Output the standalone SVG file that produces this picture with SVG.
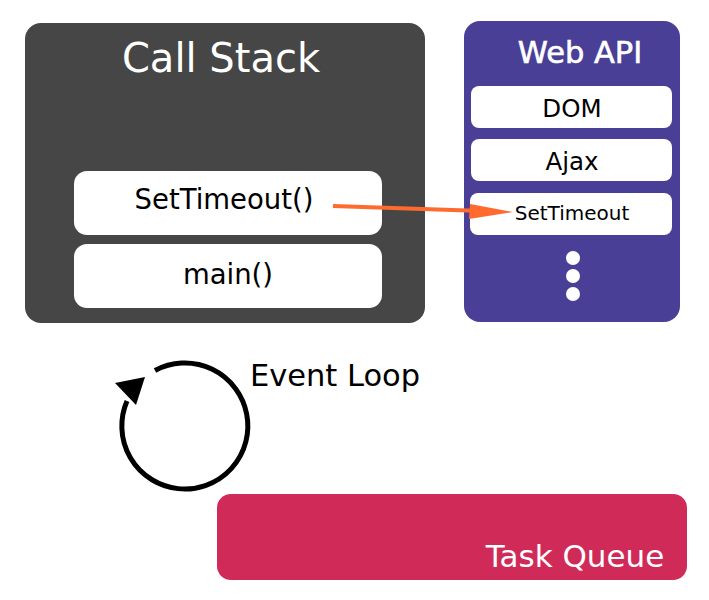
<svg xmlns="http://www.w3.org/2000/svg" width="709" height="600" viewBox="0 0 709 600">
<style>
text{font-family:"DejaVu Sans","Verdana",sans-serif;text-anchor:middle}
.w{fill:#ffffff}
.k{fill:#000000}
.item{fill:#ffffff}
</style>
<rect width="709" height="600" fill="#ffffff"/>
<g id="call-stack">
<rect x="25" y="23" width="400" height="300" rx="16" fill="#464646"/>
<text x="221" y="72" font-size="40" class="w">Call Stack</text>
</g>
<g id="settimeout-call">
<rect class="item" x="74" y="171" width="308" height="64" rx="13"/>
<text x="224" y="209" font-size="27.5" class="k">SetTimeout()</text>
</g>
<g id="main">
<rect class="item" x="74" y="244" width="308" height="64" rx="13"/>
<text x="228" y="284" font-size="27.5" class="k">main()</text>
</g>
<g id="web-api">
<rect x="464" y="21" width="216" height="301" rx="16" fill="#4a3f96"/>
<text x="580" y="63" font-size="30.5" class="w" stroke="#ffffff" stroke-width="0.6">Web API</text>
<circle cx="573" cy="258" r="7" fill="#ffffff"/>
<circle cx="573" cy="276" r="7" fill="#ffffff"/>
<circle cx="573" cy="294" r="7" fill="#ffffff"/>
</g>
<g id="dom">
<rect class="item" x="471" y="86" width="201" height="42" rx="8"/>
<text x="572" y="117" font-size="24.5" class="k">DOM</text>
</g>
<g id="ajax">
<rect class="item" x="471" y="139" width="201" height="42" rx="8"/>
<text x="572" y="170" font-size="24.5" class="k">Ajax</text>
</g>
<g id="settimeout-api">
<rect class="item" x="470" y="193" width="202" height="42" rx="8"/>
<text x="572" y="220" font-size="20" class="k">SetTimeout</text>
</g>
<g id="task-queue">
<rect x="217" y="494" width="470" height="86" rx="14" fill="#d02b58"/>
<text x="575" y="567" font-size="31" class="w">Task Queue</text>
</g>
<g id="event-loop">
<path d="M155 370.5 A63 63 0 1 1 127 401" fill="none" stroke="#000" stroke-width="5"/>
<polygon points="145,377 115,383 136,405" fill="#000"/>
<text x="335" y="386" font-size="30.5" class="k">Event Loop</text>
</g>
<g id="connectors">
<line x1="333" y1="206" x2="475" y2="210.8" stroke="#ff6a2f" stroke-width="4"/>
<polygon points="513,212 470,204 469,219" fill="#ff6a2f"/>
</g>
</svg>
